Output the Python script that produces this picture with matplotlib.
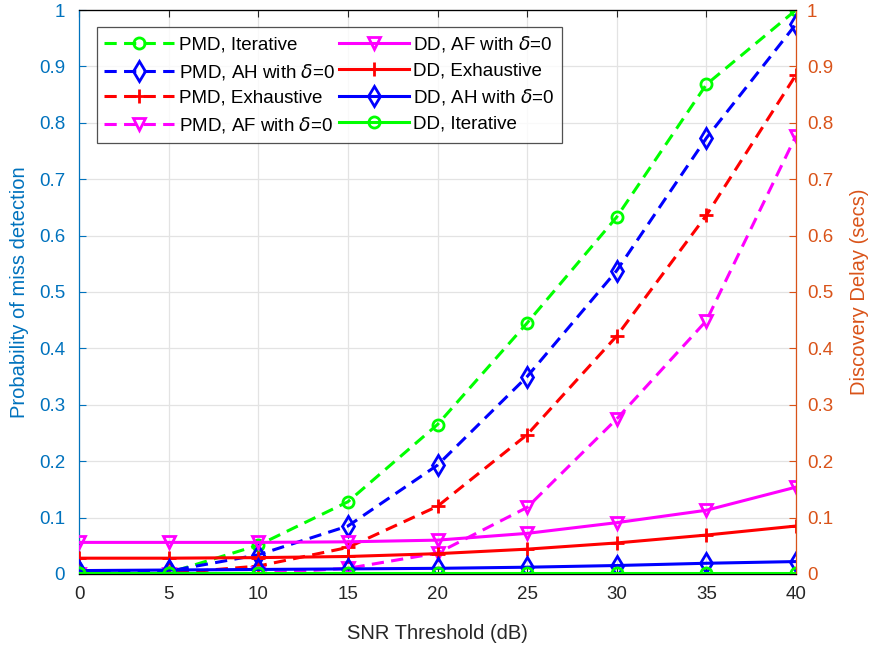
import numpy as np
import matplotlib
matplotlib.use("Agg")
import matplotlib.pyplot as plt

plt.rcParams['font.family'] = ['Liberation Sans', 'DejaVu Sans']
plt.rcParams['mathtext.fontset'] = 'dejavusans'

snr = [0, 5, 10, 15, 20, 25, 30, 35, 40]

# probability of miss detection (left axis)
pmd_iterative = [0.0, 0.002, 0.051, 0.128, 0.265, 0.445, 0.633, 0.868, 1.0]
pmd_ah = [0.003, 0.005, 0.034, 0.085, 0.193, 0.350, 0.538, 0.773, 0.975]
pmd_exhaustive = [0.0, 0.001, 0.014, 0.047, 0.120, 0.247, 0.422, 0.636, 0.885]
pmd_af = [0.0, 0.0, 0.001, 0.010, 0.037, 0.118, 0.275, 0.449, 0.777]

# discovery delay in secs (right axis)
dd_af = [0.056, 0.056, 0.056, 0.057, 0.060, 0.072, 0.091, 0.113, 0.154]
dd_exhaustive = [0.028, 0.028, 0.029, 0.031, 0.036, 0.044, 0.055, 0.069, 0.085]
dd_ah = [0.006, 0.007, 0.008, 0.009, 0.010, 0.012, 0.015, 0.019, 0.022]
dd_iterative = [0.001, 0.001, 0.001, 0.001, 0.001, 0.001, 0.001, 0.001, 0.001]

left_col = '#0072BD'
right_col = '#D95319'
dark = '#262626'

fig = plt.figure(figsize=(8.73, 6.46), dpi=100)
ax = fig.add_axes([0.0905, 0.1115, 0.8213, 0.873])
ax2 = ax.twinx()

mk = dict(markerfacecolor='none', markeredgewidth=2, linewidth=2.2)
dash = (4, 2.4)
handles = []
h, = ax.plot(snr, pmd_iterative, color=(0, 1, 0), marker='o', markersize=8, dashes=dash, label='PMD, Iterative', **mk)
handles.append(h)
h, = ax.plot(snr, pmd_ah, color=(0, 0, 1), marker='d', markersize=10, dashes=dash, label=r'PMD, AH with $\delta$=0', **mk)
handles.append(h)
h, = ax.plot(snr, pmd_exhaustive, color=(1, 0, 0), marker='+', markersize=10, dashes=dash, label='PMD, Exhaustive', **mk)
handles.append(h)
h, = ax.plot(snr, pmd_af, color=(1, 0, 1), marker='v', markersize=9, dashes=dash, label=r'PMD, AF with $\delta$=0', **mk)
handles.append(h)

h, = ax2.plot(snr, dd_af, '-', color=(1, 0, 1), marker='v', markersize=9, label=r'DD, AF with $\delta$=0', **mk)
handles.append(h)
h, = ax2.plot(snr, dd_exhaustive, '-', color=(1, 0, 0), marker='+', markersize=10, label='DD, Exhaustive', **mk)
handles.append(h)
h, = ax2.plot(snr, dd_ah, '-', color=(0, 0, 1), marker='d', markersize=10, label=r'DD, AH with $\delta$=0', **mk)
handles.append(h)
h, = ax2.plot(snr, dd_iterative, '-', color=(0, 1, 0), marker='o', markersize=8, label='DD, Iterative', **mk)
handles.append(h)

for a in (ax, ax2):
    a.set_xlim(0, 40)
    a.set_ylim(0, 1)
    a.set_yticks(np.arange(0, 1.01, 0.1))
    a.set_yticklabels(['0'] + ['%.1f' % v for v in np.arange(0.1, 0.95, 0.1)] + ['1'])

ax.set_xticks(snr)
ax.grid(True, color='#E3E3E3', linewidth=0.9)
ax.set_axisbelow(True)

ax.tick_params(axis='both', direction='in', labelsize=13.5, top=True, length=5)
ax.tick_params(axis='x', colors=dark, pad=9)
ax.tick_params(axis='y', colors=left_col, pad=10)
ax2.tick_params(axis='y', direction='in', labelsize=13.5, colors=right_col, length=5, pad=8)

ax.spines['left'].set_color(left_col)
ax.spines['top'].set_color(dark)
ax.spines['bottom'].set_color(dark)
ax2.spines['right'].set_color(right_col)
ax2.spines['left'].set_visible(False)
ax.spines['right'].set_visible(False)
for s in ax.spines.values():
    s.set_linewidth(0.9)
ax2.spines['right'].set_linewidth(0.9)

ax.set_xlabel('SNR Threshold (dB)', fontsize=14.5, color=dark, labelpad=15)
ax.set_ylabel('Probability of miss detection', fontsize=14.5, color=left_col, labelpad=7)
ax2.set_ylabel('Discovery Delay (secs)', fontsize=14.5, color=right_col, labelpad=12)

leg = ax2.legend(handles=handles, loc='upper left', ncol=2, fontsize=13.5,
                 bbox_to_anchor=(0.012, 0.987), frameon=True, fancybox=False,
                 edgecolor=dark, handlelength=3.7, handletextpad=0.25,
                 columnspacing=0.25, labelspacing=0.43, borderpad=0.4)
leg.get_frame().set_linewidth(0.9)

fig.savefig('out.png', dpi=100)
